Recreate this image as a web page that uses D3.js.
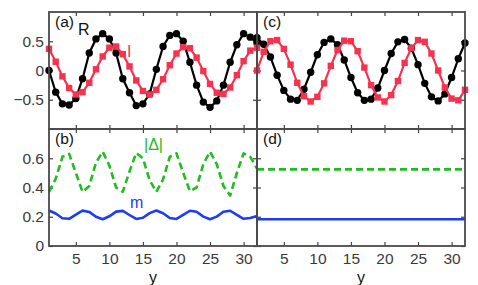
<!DOCTYPE html>
<html>
<head>
<meta charset="utf-8">
<script src="https://cdn.jsdelivr.net/npm/d3@7"></script>
<style>
  body { margin: 0; background: #fff; }
  svg { display: block; font-family: "Liberation Sans", Arial, sans-serif; }
  .tick text { fill: #3a3a3a; font-size: 15.5px; }
  .tick line { stroke: #444; stroke-width: 1.2; }
  .domain { display: none; }
</style>
</head>
<body>
<div id="chart"></div>
<script>
    var width = 478, height = 285;

    // site index, 1..32
    var sites = d3.range(1, 33);

    // (a) real and imaginary parts
    var aR = [0.00, -0.37, -0.57, -0.59, -0.48, -0.14, 0.30, 0.54, 0.63, 0.54, 0.30, -0.14, -0.38, -0.60, -0.57, -0.40,
              0.02, 0.41, 0.60, 0.63, 0.50, 0.14, -0.25, -0.54, -0.63, -0.52, -0.25, 0.14, 0.44, 0.63, 0.57, 0.47];
    var aI = [0.37, 0.15, -0.10, -0.30, -0.41, -0.37, -0.21, 0.02, 0.24, 0.39, 0.41, 0.28, 0.07, -0.17, -0.35, -0.41,
              -0.33, -0.15, 0.09, 0.29, 0.40, 0.38, 0.22, -0.01, -0.23, -0.38, -0.40, -0.29, -0.08, 0.16, 0.34, 0.39];

    // (c) real and imaginary parts
    var cR = [0.56, 0.45, 0.23, -0.08, -0.34, -0.49, -0.51, -0.32, -0.03, 0.27, 0.48, 0.54, 0.44, 0.18, -0.12, -0.38,
              -0.51, -0.49, -0.30, 0.00, 0.29, 0.49, 0.53, 0.38, 0.10, -0.22, -0.45, -0.52, -0.40, -0.12, 0.20, 0.47];
    var cI = [0.00, 0.32, 0.50, 0.52, 0.37, 0.10, -0.21, -0.44, -0.53, -0.45, -0.22, 0.08, 0.35, 0.51, 0.50, 0.33,
              0.05, -0.25, -0.46, -0.53, -0.42, -0.18, 0.13, 0.38, 0.52, 0.49, 0.29, 0.00, -0.29, -0.48, -0.51, -0.33];

    // (b) |Delta| and m
    var bDelta = [0.37, 0.46, 0.61, 0.63, 0.50, 0.37, 0.41, 0.57, 0.645, 0.55, 0.40, 0.37, 0.51, 0.636, 0.60, 0.45,
                  0.37, 0.455, 0.61, 0.633, 0.50, 0.375, 0.40, 0.56, 0.645, 0.56, 0.41, 0.345, 0.50, 0.633, 0.61, 0.53];
    var bM = [0.243, 0.222, 0.190, 0.186, 0.215, 0.242, 0.233, 0.200, 0.183, 0.203, 0.235, 0.240, 0.212, 0.185, 0.193, 0.225,
              0.243, 0.224, 0.191, 0.185, 0.213, 0.241, 0.234, 0.201, 0.183, 0.201, 0.234, 0.241, 0.213, 0.186, 0.191, 0.205];

    // (d) uniform values
    var dDelta = sites.map(function() { return 0.524; });
    var dM = sites.map(function() { return 0.183; });

    var xTicks = [5, 10, 15, 20, 25, 30];
    var yTicksTop = [-0.5, 0, 0.5];
    var yTicksBottom = [0, 0.2, 0.4, 0.6];

    var black = "#000", red = "#f5334f", green = "#22bb22", blue = "#1f3cf5";

    var colX = [49, 257, 465];
    var rowY = [12, 129, 246];

    var svg = d3.select("#chart").append("svg")
        .attr("width", width)
        .attr("height", height);

    function panel(col, row, opts) {
        var x = d3.scaleLinear().domain([1, 32]).range([colX[col], colX[col + 1]]);
        var y = d3.scaleLinear().domain(opts.domain).range([rowY[row + 1], rowY[row]]);
        var g = svg.append("g");

        // inward ticks on all four sides
        var left = d3.axisLeft(y).tickValues(opts.yTicks).tickSize(-4).tickPadding(5)
            .tickFormat(col === 0 ? d3.format("") : "");
        g.append("g").attr("transform", "translate(" + colX[col] + ",0)").call(left);
        g.append("g").attr("transform", "translate(" + colX[col + 1] + ",0)")
            .call(d3.axisRight(y).tickValues(opts.yTicks).tickSize(-4).tickFormat(""));
        g.append("g").attr("transform", "translate(0," + rowY[row] + ")")
            .call(d3.axisTop(x).tickValues(xTicks).tickSize(-4).tickFormat(""));
        g.append("g").attr("transform", "translate(0," + rowY[row + 1] + ")")
            .call(d3.axisBottom(x).tickValues(xTicks).tickSize(-4).tickPadding(7)
                .tickFormat(row === 1 ? d3.format("") : ""));

        opts.series.forEach(function(s) {
            var pts = sites.map(function(v, i) { return [v, s.values[i]]; });
            var line = d3.line()
                .x(function(d) { return x(d[0]); })
                .y(function(d) { return y(d[1]); });
            g.append("path")
                .datum(pts)
                .attr("d", line)
                .attr("fill", "none")
                .attr("stroke", s.color)
                .attr("stroke-width", s.width)
                .attr("stroke-dasharray", s.dash || null)
                .attr("stroke-linejoin", "round");
            if (s.marker === "circle") {
                g.selectAll(null).data(pts).enter().append("circle")
                    .attr("cx", function(d) { return x(d[0]); })
                    .attr("cy", function(d) { return y(d[1]); })
                    .attr("r", 3.7)
                    .attr("fill", s.color);
            } else if (s.marker === "square") {
                g.selectAll(null).data(pts).enter().append("rect")
                    .attr("x", function(d) { return x(d[0]) - 3.2; })
                    .attr("y", function(d) { return y(d[1]) - 3.2; })
                    .attr("width", 6.4)
                    .attr("height", 6.4)
                    .attr("fill", s.color);
            }
        });

        g.append("rect")
            .attr("x", colX[col]).attr("y", rowY[row])
            .attr("width", colX[col + 1] - colX[col])
            .attr("height", rowY[row + 1] - rowY[row])
            .attr("fill", "none")
            .attr("stroke", "#4a4a4a")
            .attr("stroke-width", 1.8);

        g.append("text")
            .attr("x", colX[col] + 6).attr("y", rowY[row] + 15)
            .attr("font-size", 15.5).attr("fill", "#111")
            .text(opts.label);
        return { x: x, y: y, g: g };
    }

    // series are drawn black first, red on top
    panel(0, 0, { domain: [-1, 1], yTicks: yTicksTop, label: "(a)", series: [
        { values: aR, color: black, width: 2.2, marker: "circle" },
        { values: aI, color: red, width: 2.2, marker: "square" }
    ]});
    panel(1, 0, { domain: [-1, 1], yTicks: yTicksTop, label: "(c)", series: [
        { values: cR, color: black, width: 2.2, marker: "circle" },
        { values: cI, color: red, width: 2.2, marker: "square" }
    ]});
    panel(0, 1, { domain: [0, 0.8], yTicks: yTicksBottom, label: "(b)", series: [
        { values: bDelta, color: green, width: 2.6, dash: "7,4" },
        { values: bM, color: blue, width: 2.6 }
    ]});
    panel(1, 1, { domain: [0, 0.8], yTicks: yTicksBottom, label: "(d)", series: [
        { values: dDelta, color: green, width: 2.6, dash: "7,4" },
        { values: dM, color: blue, width: 2.6 }
    ]});

    // curve labels
    svg.append("text").attr("x", 78).attr("y", 35).attr("font-size", 16).attr("fill", "#111").text("R");
    svg.append("text").attr("x", 127).attr("y", 57).attr("font-size", 16).attr("fill", red).text("I");
    svg.append("text").attr("x", 144).attr("y", 150).attr("font-size", 16).attr("fill", green).text("|\u0394|");
    svg.append("text").attr("x", 130).attr("y", 208).attr("font-size", 16).attr("fill", blue).text("m");

    // axis titles
    svg.append("text").attr("x", (colX[0] + colX[1]) / 2).attr("y", 283)
        .attr("text-anchor", "middle").attr("font-size", 16).attr("fill", "#111").text("y");
    svg.append("text").attr("x", (colX[1] + colX[2]) / 2).attr("y", 283)
        .attr("text-anchor", "middle").attr("font-size", 16).attr("fill", "#111").text("y");
</script>
</body>
</html>
